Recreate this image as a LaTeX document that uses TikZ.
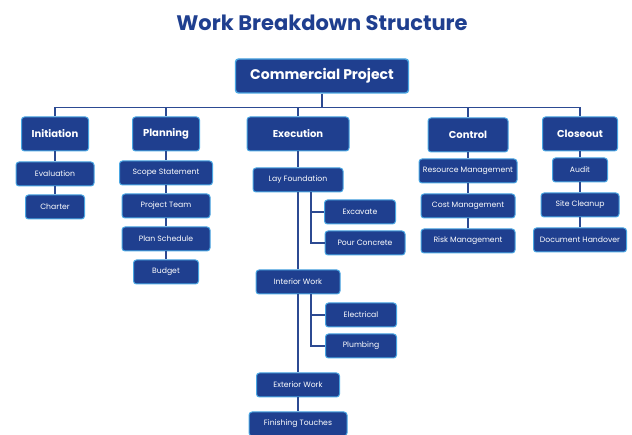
\documentclass[tikz,border=0pt]{standalone}
\usepackage{fontspec}
\setmainfont{Poppins}
\usepackage{tikz}
\usetikzlibrary{positioning, calc}
\definecolor{wbsblue}{HTML}{1F3F8F}
\definecolor{wbsedge}{HTML}{49A6E2}
\definecolor{wbsline}{HTML}{2C4A92}
\tikzset{
  wbs/.style={
	x=1pt, y=-1pt, % one unit per pixel, y grows downwards
	node distance=33pt, % spacing between stacked tasks
	every node/.style={text=white, font=\fontsize{7.7}{9}\selectfont},
	box/.style={draw=wbsedge, fill=wbsblue, line width=1pt, rounded corners=3pt, align=center}, % common look of all boxes
	root/.style={box, line width=1.4pt, minimum height=34pt, font=\bfseries\fontsize{14}{16}\selectfont},
	phase/.style={box, minimum height=34pt, font=\bfseries\fontsize{10}{12}\selectfont},
	task/.style={box, minimum height=24pt},
	link/.style={draw=wbsline, line width=1.4pt}, % the tree lines
  }
}

\begin{document}
\begin{tikzpicture}[wbs]
	  \useasboundingbox (0,0) rectangle (632,435);
	  \node[text=wbsblue, font=\bfseries\fontsize{21}{24}\selectfont] (title) at (322,23) {Work Breakdown Structure};
	  \node[root, minimum width=173pt] (proj) at (322,76) {Commercial Project};
	  \coordinate[below=14pt of proj.south] (bus);
	  % phases
	  \node[phase, minimum width=67pt, below of=proj, node distance=58pt, xshift=-267pt] (ini) {Initiation};
	  \node[phase, minimum width=67pt, below of=proj, node distance=58pt, xshift=-156pt] (plan) {Planning};
	  \node[phase, minimum width=102pt, below of=proj, node distance=58pt, xshift=-24pt] (exec) {Execution};
	  \node[phase, minimum width=80pt, below of=proj, node distance=59pt, xshift=146pt] (ctrl) {Control};
	  \node[phase, minimum width=75pt, below of=proj, node distance=58pt, xshift=258pt] (close) {Closeout};
	  % initiation
	  \node[task, minimum width=78pt, below of=ini, node distance=40pt] (eval) {Evaluation};
	  \node[task, minimum width=59pt, below of=eval] (charter) {Charter};
	  % planning
	  \node[task, minimum width=93pt, below of=plan, node distance=39pt] (scope) {Scope Statement};
	  \node[task, minimum width=88pt, below of=scope] (team) {Project Team};
	  \node[task, minimum width=88pt, below of=team] (sched) {Plan Schedule};
	  \node[task, minimum width=65pt, below of=sched] (budget) {Budget};
	  % execution
	  \node[task, minimum width=90pt, below of=exec, node distance=46pt] (lay) {Lay Foundation};
	  \node[task, minimum width=71pt, below of=lay, node distance=32pt, xshift=62pt] (excav) {Excavate};
	  \node[task, minimum width=80pt, below of=excav, node distance=31pt, xshift=5pt] (pour) {Pour Concrete};
	  \node[task, minimum width=84pt, below of=lay, node distance=102pt] (inter) {Interior Work};
	  \node[task, minimum width=71pt, below of=inter, xshift=63pt] (elec) {Electrical};
	  \node[task, minimum width=71pt, below of=elec, node distance=31pt] (plumb) {Plumbing};
	  \node[task, minimum width=83pt, below of=inter, node distance=103pt] (ext) {Exterior Work};
	  \node[task, minimum width=98pt, below of=ext, node distance=39pt] (finish) {Finishing Touches};
	  % control
	  \node[task, minimum width=98pt, below of=ctrl, node distance=36pt] (res) {Resource Management};
	  \node[task, minimum width=94pt, below of=res, node distance=35pt] (cost) {Cost Management};
	  \node[task, minimum width=94pt, below of=cost, node distance=35pt] (risk) {Risk Management};
	  % closeout
	  \node[task, minimum width=55pt, below of=close, node distance=36pt] (audit) {Audit};
	  \node[task, minimum width=78pt, below of=audit, node distance=35pt] (site) {Site Cleanup};
	  \node[task, minimum width=93pt, below of=site, node distance=35pt] (doc) {Document Handover};
	  \draw[link] (proj) -- (bus)
		  (bus) -| (ini) (bus) -| (plan) (bus) -| (exec) (bus) -| (ctrl) (bus) -| (close)
		  (ini) -- (eval) -- (charter)
		  (plan) -- (scope) -- (team) -- (sched) -- (budget)
		  (exec) -- (lay) -- (inter) -- (ext) -- (finish)
		  ([xshift=13pt]lay.south) |- (excav.west)
		  ([xshift=13pt]lay.south) |- (pour.west)
		  ([xshift=13pt]inter.south) |- (elec.west)
		  ([xshift=13pt]inter.south) |- (plumb.west)
		  (ctrl) -- (res) -- (cost) -- (risk)
		  (close) -- (audit) -- (site) -- (doc)
	  ;
\end{tikzpicture}
\end{document}
